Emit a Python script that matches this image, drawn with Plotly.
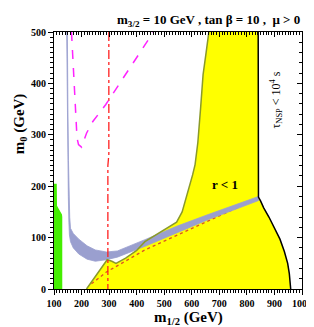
import plotly.graph_objects as go

# ---- data ----
x_ticks = [100, 200, 300, 400, 500, 600, 700, 800, 900, 1000]
y_ticks = [0, 100, 200, 300, 400, 500]

green_x = [100, 100, 110, 111, 118, 129, 130, 130]
green_y = [0, 205, 205, 162, 155, 145, 140, 0]

band_outer_x = [146, 148, 150, 152, 154, 156, 160, 170, 190, 220, 250, 290, 330, 430, 545, 660, 842]
band_outer_y = [500, 350, 250, 180, 130, 105, 92, 80, 68, 58, 54, 57, 62, 83, 109, 135, 172]
band_inner_x = [148.5, 150.5, 152.5, 155, 157, 160, 170, 190, 220, 250, 290, 330, 430, 545, 660, 842]
band_inner_y = [500, 350, 250, 180, 140, 118, 108, 97, 84, 76, 72, 74, 96, 122, 145, 180]

olive_x = [218, 255, 293, 310, 325, 360, 400, 430, 470, 498, 522, 545, 565, 580, 592, 603, 612, 622, 632, 641, 652, 662]
olive_y = [0, 27, 57, 54, 50, 60, 75, 92, 105, 114, 122, 130, 150, 177, 200, 222, 242, 285, 352, 417, 460, 500]

black_x = [841, 842, 850, 861, 880, 901, 920, 936, 948, 954, 957, 959]
black_y = [500, 179, 171, 158, 140, 119, 97, 73, 50, 30, 10, 0]

dotted_x = [236, 290, 430, 842]
dotted_y = [10, 33, 76, 177]

red_x = [299, 299, 295.5, 295.5]
red_y = [500, 262, 240, 0]

magenta_x = [163.5, 172, 177.5, 183.5, 189, 200, 218, 241, 288, 351, 392, 461]
magenta_y = [500, 417, 352, 294, 281, 276, 303, 326, 359, 410, 443, 500]

FONT = "Liberation Serif"

fig = go.Figure()

# yellow region (r < 1)
yel_x = olive_x + black_x + [olive_x[0]]
yel_y = olive_y + black_y + [olive_y[0]]
fig.add_trace(go.Scatter(x=yel_x, y=yel_y, fill="toself", fillcolor="#ffff00",
                         line=dict(width=0), mode="lines", hoverinfo="skip"))
# green region
fig.add_trace(go.Scatter(x=green_x, y=green_y, fill="toself", fillcolor="#44ee00",
                         line=dict(width=0), mode="lines", hoverinfo="skip"))
# dotted line
fig.add_trace(go.Scatter(x=dotted_x, y=dotted_y, mode="lines",
                         line=dict(color="#dd5522", width=1.3, dash="dot")))
# blue band
band_x = band_outer_x + band_inner_x[::-1]
band_y = band_outer_y + band_inner_y[::-1]
fig.add_trace(go.Scatter(x=band_x, y=band_y, fill="toself", fillcolor="#9a9fcf",
                         line=dict(color="#9a9fcf", width=0.8), mode="lines", hoverinfo="skip"))
# olive boundary
fig.add_trace(go.Scatter(x=olive_x, y=olive_y, mode="lines",
                         line=dict(color="#8a9a2a", width=1.5)))
# black boundary
fig.add_trace(go.Scatter(x=black_x, y=black_y, mode="lines",
                         line=dict(color="black", width=1.5)))
# red dash-dot
fig.add_trace(go.Scatter(x=red_x, y=red_y, mode="lines",
                         line=dict(color="#ff2020", width=1.3, dash="dashdot")))
# magenta dashed
fig.add_trace(go.Scatter(x=magenta_x, y=magenta_y, mode="lines",
                         line=dict(color="#ff22ff", width=1.5, dash="dash")))
# invisible trace for mirrored axes
fig.add_trace(go.Scatter(x=[100], y=[0], xaxis="x2", yaxis="y2", mode="markers",
                         marker=dict(opacity=0), hoverinfo="skip"))

tickfont = dict(family=FONT, size=10, color="black", weight="bold")

fig.update_layout(
    width=314, height=327,
    margin=dict(l=46, r=10, t=24, b=46),
    paper_bgcolor="white", plot_bgcolor="white",
    showlegend=False,
    xaxis=dict(range=[100, 1000], tickvals=x_ticks, showgrid=False, zeroline=False,
               showline=True, linecolor="black", linewidth=1.2,
               ticks="outside", ticklen=5, tickwidth=1, tickcolor="black",
               minor=dict(ticks="outside", dtick=10, ticklen=3, tickcolor="black", tickwidth=0.8),
               tickfont=tickfont),
    yaxis=dict(range=[0, 500], tickvals=y_ticks, showgrid=False, zeroline=False,
               showline=True, linecolor="black", linewidth=1.2,
               ticks="outside", ticklen=5, tickwidth=1, tickcolor="black",
               minor=dict(ticks="outside", dtick=10, ticklen=3, tickcolor="black", tickwidth=0.8),
               tickfont=tickfont),
    xaxis2=dict(range=[100, 1000], overlaying="x", side="top", showgrid=False, zeroline=False,
                showline=True, linecolor="black", linewidth=1.2, tickvals=x_ticks,
                ticks="inside", ticklen=5, tickcolor="black", showticklabels=False,
                minor=dict(ticks="inside", dtick=10, ticklen=3, tickcolor="black", tickwidth=0.8)),
    yaxis2=dict(range=[0, 500], overlaying="y", side="right", showgrid=False, zeroline=False,
                showline=True, linecolor="black", linewidth=1.2, tickvals=y_ticks,
                ticks="inside", ticklen=5, tickcolor="black", showticklabels=False,
                minor=dict(ticks="inside", dtick=20, ticklen=3, tickcolor="black", tickwidth=0.8)),
)

fig.add_annotation(text="<b>m<sub>3/2</sub> = 10 GeV , tan β = 10 ,  μ > 0</b>",
                   xref="paper", yref="paper", x=1.0, y=1.045, xanchor="right", yanchor="middle",
                   showarrow=False, font=dict(family=FONT, size=13, color="black"))
fig.add_annotation(text="<b>m<sub>0</sub> (GeV)</b>", textangle=-90,
                   xref="paper", yref="paper", x=-0.136, y=0.642, xanchor="center", yanchor="middle",
                   showarrow=False, font=dict(family=FONT, size=15, color="black"))
fig.add_annotation(text="<b>m<sub>1/2</sub> (GeV)</b>",
                   xref="paper", yref="paper", x=0.543, y=-0.07, xanchor="center", yanchor="top",
                   showarrow=False, font=dict(family=FONT, size=15, color="black"))
fig.add_annotation(text="<b>r < 1</b>", x=722, y=203, xanchor="center", yanchor="middle",
                   showarrow=False, font=dict(family=FONT, size=13, color="black"))
fig.add_annotation(text="τ<sub>NSP</sub> < 10<sup>4</sup> s", textangle=-90, x=906, y=367,
                   xanchor="center", yanchor="middle",
                   showarrow=False, font=dict(family=FONT, size=12, color="black"))

fig.write_html("out.html")
